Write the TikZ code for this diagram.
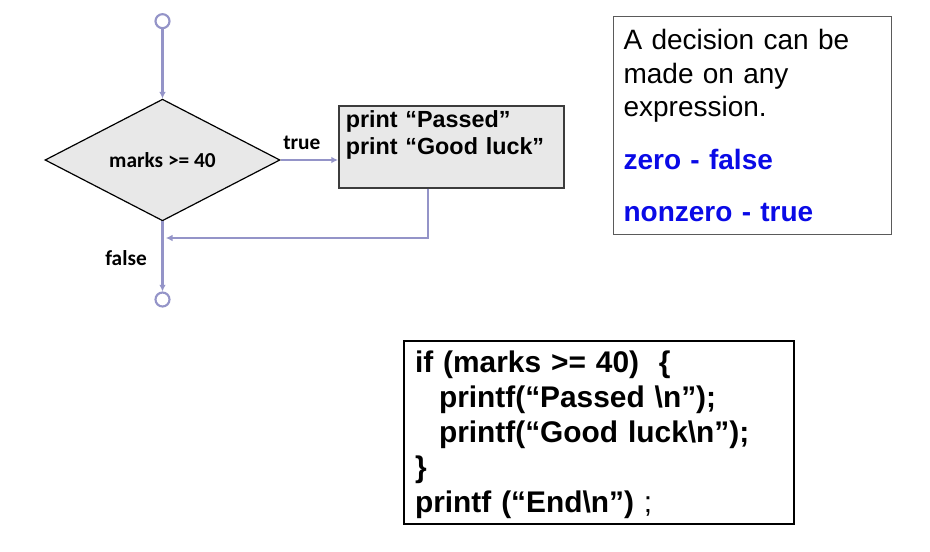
\documentclass[tikz,border=0pt]{standalone}
\usepackage{fontspec}
\setmainfont{Liberation Sans}
\newfontfamily\labelfont{Carlito}
\usepackage{tikz}
\usetikzlibrary{arrows.meta,positioning,shapes.geometric}
\definecolor{Flow}{HTML}{9494C8}
\definecolor{BoxFill}{HTML}{E8E8E8}
\definecolor{BoxEdge}{HTML}{3C3C3C}
\definecolor{NoteEdge}{HTML}{5A5A5A}
\definecolor{Truth}{HTML}{0A0AE6}

\begin{document}
\begin{tikzpicture}[
  x=0.75pt,y=-0.75pt,
  flow/.style={draw=Flow,line width=1.6pt,-{Latex[length=5pt,width=5pt]}},
  term/.style={circle,draw=Flow,line width=1.6pt,minimum size=10.5pt,inner sep=0pt},
  decide/.style={diamond,draw=black,line width=0.9pt,fill=BoxFill,minimum width=176.25pt,minimum height=90pt,inner sep=0pt,font=\labelfont\bfseries\fontsize{16}{19}\selectfont},
  lbl/.style={font=\labelfont\bfseries\fontsize{16}{19}\selectfont,inner sep=2pt},
  textbox/.style={anchor=north west,align=left,draw}
]
  \useasboundingbox (0,0) rectangle (930,552);

  % flowchart
  \node[decide] (cond) at (162.5,160) {\raisebox{-2pt}{marks >= 40}};
  \node[term,above=52pt of cond] (start) {};
  \node[term,below=52.5pt of cond] (stop) {};
  \node[textbox,draw=BoxEdge,line width=1.2pt,fill=BoxFill,text width=158.25pt,inner xsep=5.25pt,inner ysep=4pt,text height=12.5pt,text depth=41pt,font=\bfseries\fontsize{17.5}{20.25}\selectfont] (act) at (338,105) {print “Passed”\\print “Good luck”};
  \coordinate (merge) at (162.5,238);

  \draw[flow] (start) -- (cond);
  \draw[flow] (cond.east) -- node[lbl,above=5pt,pos=.37] (truelbl) {true} (cond.east -| act.west);
  \draw[flow] ([xshift=67.5pt]act.south west) |- ([xshift=2.5pt]merge);
  \draw[flow] (cond) -- node[lbl,left=9pt,pos=.52] (falselbl) {false} (stop);

  % notes
  \node[textbox,draw=NoteEdge,line width=0.8pt,text width=193.5pt,inner xsep=7.5pt,inner ysep=9.75pt,text height=15pt,text depth=129pt,font=\fontsize{21}{25.25}\selectfont] (note) at (613,16)
    {A decision can be\\made on any\\expression.\\[14pt]
     \textcolor{Truth}{\bfseries zero - false}\\[14pt]
     \textcolor{Truth}{\bfseries nonzero - true}};

  \node[textbox,draw=black,line width=1.5pt,text width=276pt,inner xsep=8.25pt,inner ysep=7.25pt,text height=16pt,text depth=106.75pt,font=\bfseries\fontsize{22.4}{26.25}\selectfont] (code) at (403,340)
    {if (marks >= 40)\ \ \{\\
     \hspace*{18pt}printf(“Passed \textbackslash n”);\\
     \hspace*{18pt}printf(“Good luck\textbackslash n”);\\
     \}\\
     printf (“End\textbackslash n”){\mdseries\ ;}};
\end{tikzpicture}
\end{document}
